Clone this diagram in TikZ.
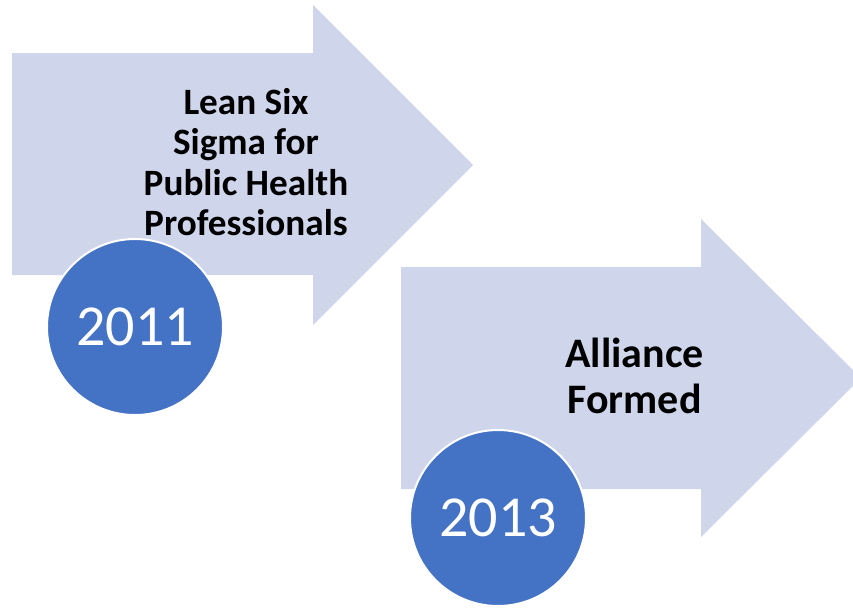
\documentclass[tikz,border=0pt]{standalone}
\usepackage{fontspec}
\setmainfont{Carlito}
\definecolor{arrowfill}{HTML}{CFD5EA}
\definecolor{circfill}{HTML}{4472C4}
\begin{document}
\begin{tikzpicture}[x=1pt,y=-1pt,
  blockarrow/.style={fill=arrowfill, draw=none},
  yearcircle/.style={circle, fill=circfill, draw=white, line width=2pt, minimum size=176pt, inner sep=0pt, text=white, font=\fontsize{58}{60}\selectfont},
  eventlabel/.style={align=center, inner sep=0pt, text=black}]
\useasboundingbox (0,0) rectangle (853,608);
% arrow 1
\path[blockarrow] (12,53) -- (313,53) -- (313,5) -- (473,165) -- (313,325) -- (313,275) -- (12,275) -- cycle;
% arrow 2
\path[blockarrow] (401,267) -- (701,267) -- (701,219) -- (861,378) -- (701,537) -- (701,489) -- (401,489) -- cycle;
% labels
\node[eventlabel, font=\fontsize{37.2}{40.5}\selectfont\bfseries] (lss) at (246,162) {Lean Six\\Sigma for\\Public Health\\Professionals};
\node[eventlabel, font=\fontsize{42}{46}\selectfont\bfseries] (alliance) at (634.5,376) {Alliance\\Formed};
% year circles
\node[yearcircle] (y2011) at (135,327) {2011};
\node[yearcircle] (y2013) at (498,518) {2013};
\end{tikzpicture}
\end{document}
